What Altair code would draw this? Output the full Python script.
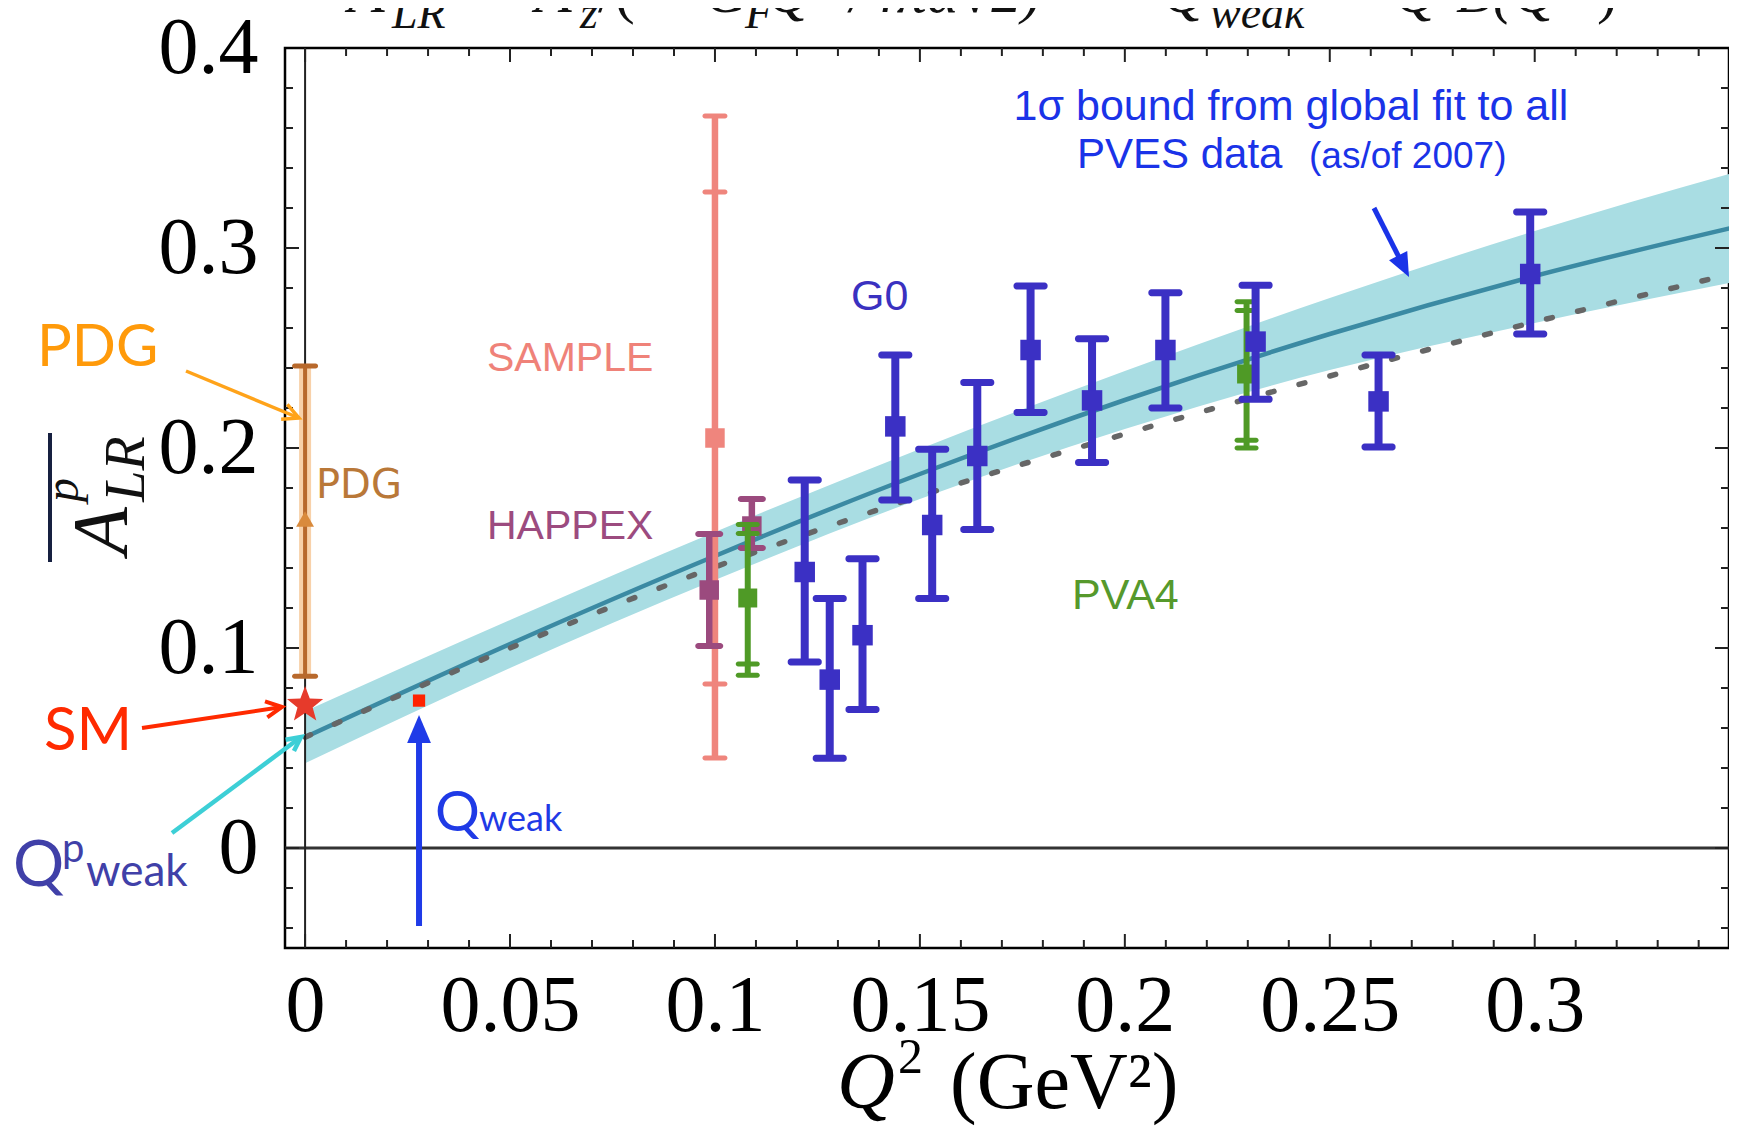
import math
import altair as alt
import pandas as pd

# ---------------- values ----------------
FIT_Q2 = [0.0, 0.05, 0.10, 0.15, 0.20, 0.25, 0.30, 0.35]
FIT_A = [0.0554, 0.102, 0.146, 0.187, 0.224, 0.257, 0.286, 0.311]
BAND_HI = [0.0684, 0.114, 0.158, 0.1995, 0.2385, 0.275, 0.3085, 0.3385]
BAND_LO = [0.0424, 0.090, 0.134, 0.1745, 0.2095, 0.239, 0.2625, 0.2835]
DOT_A = [0.0554, 0.100, 0.1405, 0.176, 0.207, 0.236, 0.263, 0.288]

G0_Q2 = [0.1219, 0.128, 0.136, 0.144, 0.153, 0.164, 0.177, 0.192, 0.2099, 0.2319, 0.2619, 0.2989]
G0_A = [0.138, 0.0842, 0.1064, 0.2108, 0.1615, 0.196, 0.249, 0.2238, 0.249, 0.2532, 0.2233, 0.287]
G0_HI = [0.184, 0.1247, 0.1446, 0.2465, 0.1994, 0.2327, 0.281, 0.2546, 0.2776, 0.2814, 0.2465, 0.318]
G0_LO = [0.093, 0.0449, 0.0693, 0.174, 0.1247, 0.1592, 0.2177, 0.1928, 0.220, 0.2244, 0.2005, 0.257]

SAMPLE_Q2 = [0.100]
SAMPLE_A = [0.205]
SAMPLE_HI = [0.366]
SAMPLE_LO = [0.045]
SAMPLE_STAT_HI = [0.328]
SAMPLE_STAT_LO = [0.082]

HAPPEX_Q2 = [0.0986, 0.109]
HAPPEX_A = [0.129, 0.161]
HAPPEX_HI = [0.157, 0.1745]
HAPPEX_LO = [0.101, 0.150]

PVA4_Q2 = [0.108, 0.2297]
PVA4_A = [0.125, 0.237]
PVA4_HI = [0.1618, 0.2731]
PVA4_STAT_HI = [0.1573, 0.2687]
PVA4_STAT_LO = [0.092, 0.2039]
PVA4_LO = [0.0864, 0.200]

PDG_Q2 = [0.0]
PDG_A = [0.1645]
PDG_HI = [0.241]
PDG_LO = [0.0859]

SM_Q2 = [0.0]
SM_A = [0.0715]

QWEAK_Q2 = [0.0278]
QWEAK_A = [0.0737]
QWEAK_ARROW_FROM = [-0.039]
QWEAK_ARROW_TIP = [0.0665]

X_LABELS = [0, 0.05, 0.1, 0.15, 0.2, 0.25, 0.3]
Y_LABELS = [0, 0.1, 0.2, 0.3, 0.4]
X_MAJOR = [0, 0.05, 0.1, 0.15, 0.2, 0.25, 0.3]
X_MINOR = [0.01, 0.02, 0.03, 0.04, 0.06, 0.07, 0.08, 0.09, 0.11, 0.12, 0.13, 0.14,
           0.16, 0.17, 0.18, 0.19, 0.21, 0.22, 0.23, 0.24, 0.26, 0.27, 0.28, 0.29,
           0.31, 0.32, 0.33, 0.34]
Y_MAJOR = [0, 0.1, 0.2, 0.3]
Y_MINOR = [-0.04, -0.02, 0.02, 0.04, 0.06, 0.08, 0.12, 0.14, 0.16, 0.18,
           0.22, 0.24, 0.26, 0.28, 0.32, 0.34, 0.36, 0.38]

# ---------------- layout ----------------
W, H = 1444, 900
LEFT, TOP, BOTTOM = 277, 40, 179
OX, OY = 8 + LEFT, 8 + TOP


def px(xf):
    return xf - OX


def py(yf):
    return yf - OY


xs = alt.Scale(domain=[-0.0049, 0.3474], nice=False, zero=False)
ys = alt.Scale(domain=[-0.05, 0.4], nice=False, zero=False)
SERIF = "Liberation Serif"
xaxis = alt.Axis(values=X_LABELS, format="~g", title=None, ticks=False, tickSize=0,
                 domain=False, grid=False, labelFont=SERIF, labelFontSize=80,
                 labelColor="black", labelPadding=19, labelOverlap=False,
                 labelFlush=False, labelBound=False)
yaxis = alt.Axis(values=Y_LABELS, format="~g", title=None, ticks=False, tickSize=0,
                 domain=False, grid=False, labelFont=SERIF, labelFontSize=80,
                 labelColor="black", labelPadding=27, labelOverlap=False,
                 labelFlush=False, labelBound=False)


def X(f):
    return alt.X(f, type="quantitative", scale=xs, axis=xaxis)


def Y(f):
    return alt.Y(f, type="quantitative", scale=ys, axis=yaxis)


layers = []

# fit band and curves
fit = pd.DataFrame({"q2": FIT_Q2, "a": FIT_A, "hi": BAND_HI, "lo": BAND_LO, "d": DOT_A})
layers.append(alt.Chart(fit).mark_area(color="#a9dde3", opacity=1, clip=True,
                                         interpolate="monotone")
              .encode(x=X("q2"), y=Y("lo"), y2=alt.Y2("hi")))
layers.append(alt.Chart(fit).mark_line(color="#3b8aa3", strokeWidth=4.5, clip=True,
                                         interpolate="monotone")
              .encode(x=X("q2"), y=Y("a")))
layers.append(alt.Chart(fit).mark_line(color="#666666", strokeWidth=5.5, clip=True,
                                         strokeDash=[6, 26], strokeCap="round",
                                         interpolate="monotone")
              .encode(x=X("q2"), y=Y("d")))

# zero lines
layers.append(alt.Chart(pd.DataFrame({"v": [0.0]})).mark_rule(color="#333333", strokeWidth=3)
              .encode(y=Y("v")))
layers.append(alt.Chart(pd.DataFrame({"v": [0.0]})).mark_rule(color="#222222", strokeWidth=2)
              .encode(x=X("v")))

# inward frame ticks
for vals, ln in ((X_MAJOR, 14), (X_MINOR, 8)):
    d = pd.DataFrame({"v": vals})
    layers.append(alt.Chart(d).mark_rule(color="#222222", strokeWidth=2)
                  .encode(x=X("v"), y=alt.value(H), y2=alt.value(H - ln)))
    layers.append(alt.Chart(d).mark_rule(color="#222222", strokeWidth=2)
                  .encode(x=X("v"), y=alt.value(0), y2=alt.value(ln)))
for vals, ln in ((Y_MAJOR, 14), (Y_MINOR, 8)):
    d = pd.DataFrame({"v": vals})
    layers.append(alt.Chart(d).mark_rule(color="#222222", strokeWidth=2)
                  .encode(y=Y("v"), x=alt.value(0), x2=alt.value(ln)))
    layers.append(alt.Chart(d).mark_rule(color="#222222", strokeWidth=2)
                  .encode(y=Y("v"), x=alt.value(W), x2=alt.value(W - ln)))


def errbars(q2, a, lo, hi, color, bar_w, cap_w, cap_t, sq, extra=()):
    df = pd.DataFrame({"q2": q2, "a": a, "lo": lo, "hi": hi})
    out = [alt.Chart(df).mark_rule(color=color, strokeWidth=bar_w)
           .encode(x=X("q2"), y=Y("lo"), y2=alt.Y2("hi"))]
    cq, cv = [], []
    for col in [lo, hi] + list(extra):
        cq += list(q2)
        cv += list(col)
    caps = pd.DataFrame({"q2": cq, "v": cv})
    out.append(alt.Chart(caps).mark_tick(color=color, orient="horizontal", size=cap_w,
                                         thickness=cap_t, opacity=1, cornerRadius=3)
               .encode(x=X("q2"), y=Y("v")))
    if sq:
        out.append(alt.Chart(df).mark_square(color=color, size=sq, opacity=1)
                   .encode(x=X("q2"), y=Y("a")))
    return out


# PDG bar with halo
pdg = pd.DataFrame({"q2": PDG_Q2, "a": PDG_A, "lo": PDG_LO, "hi": PDG_HI})
layers.append(alt.Chart(pdg).mark_rule(color="#f6c593", strokeWidth=12, opacity=0.8)
              .encode(x=X("q2"), y=Y("lo"), y2=alt.Y2("hi")))
layers += errbars(PDG_Q2, PDG_A, PDG_LO, PDG_HI, "#b8692c", 4, 26, 5, 0)
layers.append(alt.Chart(pdg).mark_point(shape="triangle-up", filled=True, size=320,
                                         color="#d98a3c", opacity=1)
              .encode(x=X("q2"), y=Y("a")))

layers += errbars(SAMPLE_Q2, SAMPLE_A, SAMPLE_LO, SAMPLE_HI, "#ef857d", 6.5, 25, 5, 380,
                  extra=(SAMPLE_STAT_LO, SAMPLE_STAT_HI))
layers += errbars(HAPPEX_Q2, HAPPEX_A, HAPPEX_LO, HAPPEX_HI, "#9b4a7e", 6.5, 28, 6, 380)
layers += errbars(PVA4_Q2, PVA4_A, PVA4_LO, PVA4_HI, "#4f9a26", 6, 24, 5, 360,
                  extra=(PVA4_STAT_LO, PVA4_STAT_HI))
layers += errbars(G0_Q2, G0_A, G0_LO, G0_HI, "#3b30c4", 8, 34, 7, 420)

# SM star
pts = []
for k in range(10):
    r = 1.0 if k % 2 == 0 else 0.42
    ang = math.radians(-90 + 36 * k)
    pts.append(f"{r * math.cos(ang):.3f},{r * math.sin(ang):.3f}")
STAR = "M" + "L".join(pts) + "Z"
layers.append(alt.Chart(pd.DataFrame({"q2": SM_Q2, "a": SM_A}))
              .mark_point(shape=STAR, filled=True, size=1450, color="#e63a2b", opacity=1)
              .encode(x=X("q2"), y=Y("a")))

# Qweak point and arrow
qw = pd.DataFrame({"q2": QWEAK_Q2, "a": QWEAK_A, "y1": QWEAK_ARROW_FROM,
                   "tip": QWEAK_ARROW_TIP})
qw["y2"] = qw["tip"] - 0.010
HEAD = "M0,0L-0.85,2L0.85,2Z"
layers.append(alt.Chart(qw).mark_rule(color="#1f3be8", strokeWidth=6)
              .encode(x=X("q2"), y=Y("y1"), y2=alt.Y2("y2")))
layers.append(alt.Chart(qw).mark_point(shape=HEAD, filled=True, size=28 * 28,
                                        color="#1f3be8", opacity=1)
              .encode(x=X("q2"), y=Y("tip")))
layers.append(alt.Chart(qw).mark_square(color="#ff2200", size=150, opacity=1)
              .encode(x=X("q2"), y=Y("a")))

ONE = pd.DataFrame({"k": [0]})


def txt(s, xf, yf, size, color, font="Lato", align="left", baseline="alphabetic",
        style="normal", angle=0):
    return (alt.Chart(ONE)
            .mark_text(text=s, font=font, fontSize=size, color=color, align=align,
                       baseline=baseline, fontStyle=style, angle=angle)
            .encode(x=alt.value(px(xf)), y=alt.value(py(yf))))


def arrow(x1, y1, x2, y2, color, width, head, filled):
    dx, dy = x2 - x1, y2 - y1
    L = math.hypot(dx, dy)
    ang = math.degrees(math.atan2(dx, -dy)) % 360
    cut = head * 0.8 if filled else 0
    ex, ey = x2 - dx / L * cut, y2 - dy / L * cut
    out = [alt.Chart(ONE).mark_rule(color=color, strokeWidth=width)
           .encode(x=alt.value(px(x1)), y=alt.value(py(y1)),
                   x2=alt.value(px(ex)), y2=alt.value(py(ey)))]
    if filled:
        out.append(alt.Chart(ONE).mark_point(shape=HEAD, filled=True, size=head * head,
                                             angle=ang, color=color, opacity=1)
                   .encode(x=alt.value(px(x2)), y=alt.value(py(y2))))
    else:
        out.append(alt.Chart(ONE).mark_point(shape="M-0.8,1.6L0,0L0.8,1.6", filled=False,
                                             size=(1.25 * head) ** 2, angle=ang,
                                             color=color, strokeWidth=width, opacity=1)
                   .encode(x=alt.value(px(x2)), y=alt.value(py(y2))))
    return out


# annotation arrows
layers += arrow(186, 371, 299, 418, "#ffa31a", 3.5, 16, False)
layers += arrow(142, 728, 282, 707, "#ff2a00", 4, 16, False)
layers += arrow(172, 833, 301, 737, "#3dcfd6", 4.5, 14, False)
layers += arrow(1374, 208, 1409, 277, "#1a33e8", 5, 24, True)

# annotation texts
SANS = "Liberation Sans"
layers += [
    txt("PDG", 37, 366, 58, "#ff9a0a"),
    txt("SM", 44, 750, 60, "#ff2a00"),
    txt("Q", 13, 886, 64, "#4040a8"),
    txt("p", 62, 862, 40, "#4040a8"),
    txt("weak", 86, 886, 44, "#4040a8"),
    txt("Q", 435, 831, 56, "#1f3ae6"),
    txt("weak", 479, 831, 36, "#1f3ae6"),
    txt("PDG", 316, 498, 40, "#b97838", font="DejaVu Sans"),
    txt("SAMPLE", 487, 371, 41, "#ef8279", font=SANS),
    txt("HAPPEX", 487, 539, 41, "#9c4b7f", font=SANS),
    txt("G0", 851, 310, 43, "#3a31c0", font=SANS),
    txt("PVA4", 1072, 609, 43, "#56992c", font=SANS),
    txt("1σ bound from global fit to all", 1291, 120, 43, "#1a33e8", font=SANS,
        align="center"),
    txt("PVES data", 1077, 168, 42, "#1a33e8", font=SANS),
    txt("(as/of 2007)", 1309, 168, 37, "#1a33e8", font=SANS),
]

# x-axis title
layers += [
    txt("Q", 837, 1108, 80, "black", font=SERIF, style="italic"),
    txt("2", 898, 1073, 50, "black", font=SERIF),
    txt("(GeV²)", 950, 1108, 80, "black", font=SERIF),
]

# y-axis title (rotated, overlined A^p_LR)
layers.append(alt.Chart(ONE).mark_rule(color="#162040", strokeWidth=4)
              .encode(x=alt.value(px(50)), y=alt.value(py(433)), y2=alt.value(py(562))))
layers += [
    txt("A", 126, 531, 78, "#111111", font=SERIF, style="italic", align="center", angle=270),
    txt("p", 78, 490, 48, "#111111", font=SERIF, style="italic", align="center", angle=270),
    txt("LR", 144, 469, 56, "#111111", font=SERIF, style="italic", align="center", angle=270),
]

# clipped title formula at the top
MAIN_Y, SUB_Y, SUP_Y = 12, 28, -6
for s, x, it in [("A", 348, True), ("=", 466, False), ("A", 535, True), ("/(", 598, False),
                 ("−", 662, False), ("G", 705, True), ("Q", 767, True),
                 ("/4πα√2)", 850, True), ("=", 1083, False), ("Q", 1162, True),
                 ("+", 1334, False), ("Q", 1394, True), ("B(Q", 1456, True),
                 (")", 1597, False)]:
    layers.append(txt(s, x, MAIN_Y, 60, "#111111", font=SERIF,
                      style="italic" if it else "normal"))
for s, x in [("LR", 392), ("z", 580), ("F", 745), ("weak", 1210)]:
    layers.append(txt(s, x, SUB_Y, 46, "#111111", font=SERIF, style="italic"))
for s, x in [("2", 815), ("2", 1430), ("2", 1575)]:
    layers.append(txt(s, x, SUP_Y, 40, "#111111", font=SERIF))

chart = (alt.layer(*layers)
         .properties(width=W, height=H, autosize=alt.AutoSizeParams(type="none"),
                     padding={"left": LEFT, "top": TOP, "right": 0, "bottom": BOTTOM},
                     background="white")
         .configure_view(stroke="black", strokeWidth=2.5))

chart.save("out.html", embed_options={"renderer": "svg", "actions": False})
